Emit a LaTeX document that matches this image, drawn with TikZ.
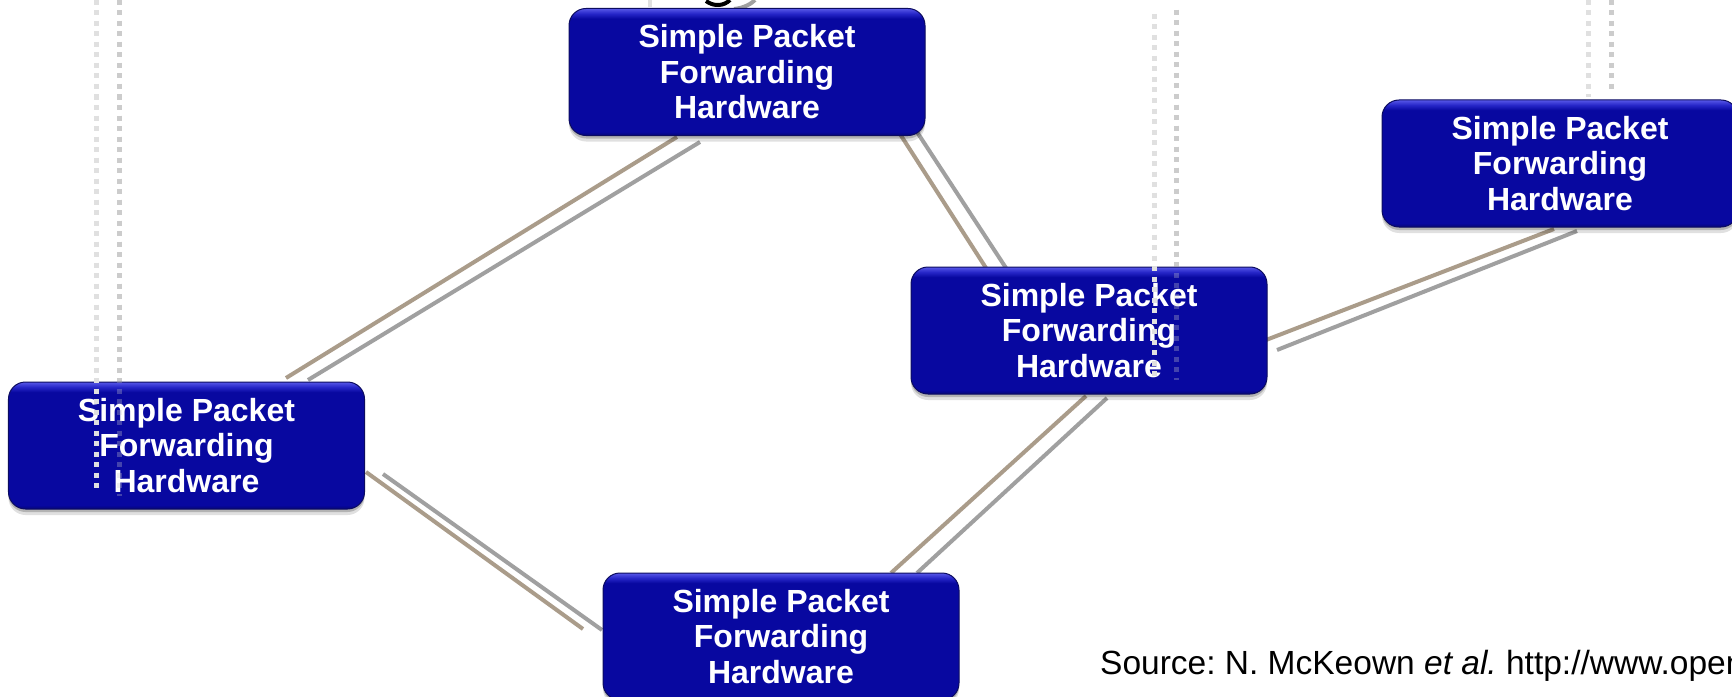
\documentclass[tikz,border=0pt]{standalone}
\usepackage{fontspec}
\setmainfont{Liberation Sans}
\usetikzlibrary{shadows}

\definecolor{bxmain}{RGB}{8,8,160}
\definecolor{bxbot}{RGB}{5,5,118}
\definecolor{bxmid}{RGB}{38,38,200}
\definecolor{bxhi}{RGB}{88,88,232}
\definecolor{bxedge}{RGB}{12,12,96}
\definecolor{linktan}{RGB}{170,156,138}
\definecolor{linkgrey}{RGB}{160,160,160}
\definecolor{dotlight}{RGB}{224,224,224}
\definecolor{dotdark}{RGB}{204,204,204}

% body of the boxes: dark bottom rim, flat blue, light band on top
\pgfdeclareverticalshading{boxshade}{100bp}{%
  color(0bp)=(bxbot); color(25bp)=(bxbot); color(26.5bp)=(bxmain);
  color(71bp)=(bxmain); color(73bp)=(bxmid); color(75bp)=(bxhi);
  color(100bp)=(bxhi)}

\begin{document}
\frenchspacing
\begin{tikzpicture}[x=1bp,y=-1bp,
  fwdbox/.style={rounded corners=17bp, minimum width=356bp,
    minimum height=127bp, inner sep=0pt, shading=boxshade,
    draw=bxedge, line width=1bp, text=white, align=center,
    font=\bfseries\fontsize{32bp}{35.5bp}\selectfont,
    drop shadow={shadow xshift=0bp, shadow yshift=-6bp, opacity=0.12, fill=black},
    drop shadow={shadow xshift=0bp, shadow yshift=-3bp, opacity=0.2, fill=black}},
  tanlink/.style={draw=linktan, line width=4bp},
  greylink/.style={draw=linkgrey, line width=4bp},
  dotsq/.style={line width=5bp, dash pattern=on 5bp off 5.5bp},
]
\fill[white] (0,0) rectangle (1732,697);
\useasboundingbox (0,0) rectangle (1732,697);
\clip (0,0) rectangle (1732,697);

% tail of a heading cut off by the top edge
\draw[black, line width=4bp] (706,1) .. controls (714,7) and (724,6) .. (730,0);
\draw[linkgrey, line width=4bp] (734,9) .. controls (744,8) and (751,4) .. (755,0);
\draw[dotlight, line width=4bp] (650,0) -- (650,7);

% dotted verticals running behind the boxes
\draw[dotsq, dotdark] (119,0) -- (119,496);
\draw[dotsq, dotdark] (1176,10) -- (1176,380);
\draw[dotsq, dotlight] (1588,0) -- (1588,97);
\draw[dotsq, dotdark] (1611,0) -- (1611,93);

% switch positions
\coordinate (pT) at (747,72);
\coordinate (pL) at (186.5,445.5);
\coordinate (pM) at (1089,330.5);
\coordinate (pR) at (1560,163.5);
\coordinate (pB) at (781,636.5);

% node placeholders (invisible) so links can refer to them before the boxes are drawn
\path (pT) node[minimum width=356bp, minimum height=127bp] (top) {};
\path (pL) node[minimum width=356bp, minimum height=127bp] (left) {};
\path (pM) node[minimum width=356bp, minimum height=127bp] (mid) {};
\path (pR) node[minimum width=356bp, minimum height=127bp] (right) {};
\path (pB) node[minimum width=356bp, minimum height=127bp] (bot) {};

% doubled links between the switches
\draw[tanlink]  ([shift={(-70,65)}]top.center)  -- ([shift={(99.5,-67.5)}]left.center);
\draw[greylink] ([shift={(-47,70)}]top.center)  -- ([shift={(121.5,-65.5)}]left.center);

\draw[tanlink]  ([shift={(153,62)}]top.center)  -- ([shift={(-103,-62.5)}]mid.center);
\draw[greylink] ([shift={(170,60)}]top.center)  -- ([shift={(-83,-62.5)}]mid.center);

\draw[tanlink]  ([shift={(177,9.5)}]mid.center) -- ([shift={(-6,65.5)}]right.center);
\draw[greylink] ([shift={(188,19.5)}]mid.center) -- ([shift={(17,67.5)}]right.center);

\draw[tanlink]  ([shift={(-3,65.5)}]mid.center) -- ([shift={(110,-63.5)}]bot.center);
\draw[greylink] ([shift={(18,67.5)}]mid.center) -- ([shift={(136,-63.5)}]bot.center);

\draw[tanlink]  ([shift={(179.5,26.5)}]left.center) -- ([shift={(-198,-7.5)}]bot.center);
\draw[greylink] ([shift={(196.5,28.5)}]left.center) -- ([shift={(-179,-6.5)}]bot.center);

% the switches
\node[fwdbox] (topbox)   at (top.center)   {Simple Packet\\Forwarding\\Hardware};
\node[fwdbox] (leftbox)  at (left.center)  {Simple Packet\\Forwarding\\Hardware};
\node[fwdbox] (midbox)   at (mid.center)   {Simple Packet\\Forwarding\\Hardware};
\node[fwdbox] (rightbox) at (right.center) {Simple Packet\\Forwarding\\Hardware};
\node[fwdbox] (botbox)   at (bot.center)   {Simple Packet\\Forwarding\\Hardware};

% dotted verticals crossing in front of the boxes
\draw[dotsq, dotlight] (96,0) -- (96,492);
\draw[dotsq, dotdark, opacity=0.3] (119,0) -- (119,496);
\draw[dotsq, dotlight] (1154,14) -- (1154,378);
\draw[dotsq, dotdark, opacity=0.3] (1176,10) -- (1176,380);

% citation, running off the right edge
\node[anchor=base west, inner sep=0pt, font=\fontsize{33.5bp}{40bp}\selectfont]
  (src) at (1100,674) {Source: N. McKeown \textit{et al.} http://www.openflow.org};
\end{tikzpicture}
\end{document}
